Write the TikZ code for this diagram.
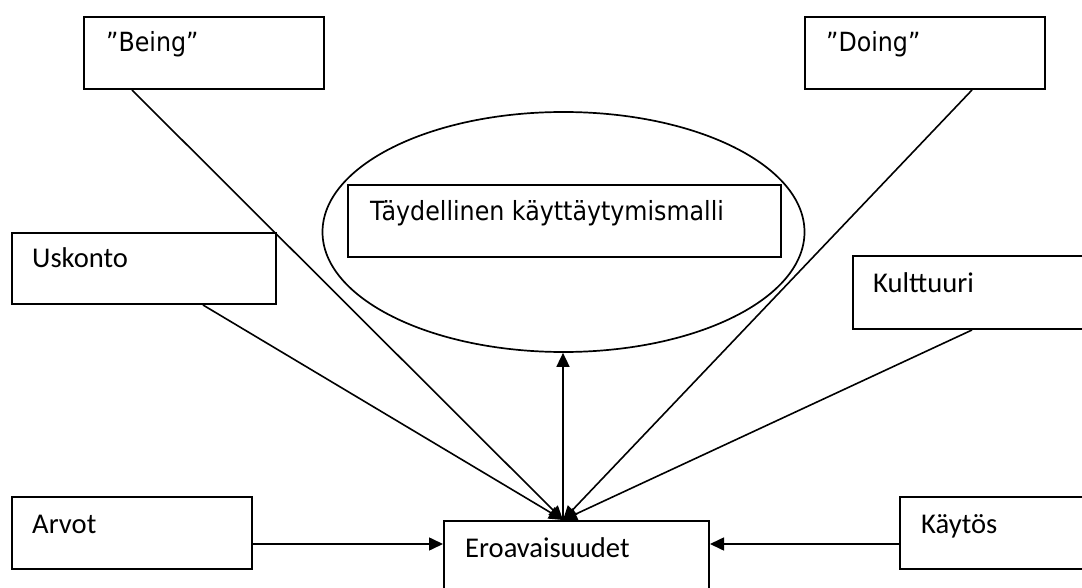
\documentclass[tikz,border=0pt]{standalone}
\usepackage{fontspec}
\setmainfont{Carlito}
\newfontfamily\condfont{DejaVu Sans Condensed}
\usetikzlibrary{calc,shapes.geometric,arrows.meta}
\begin{document}
\begin{tikzpicture}[x=1pt,y=-1pt,
  box/.style={draw,line width=2pt,rectangle,inner sep=0pt,anchor=north west},
  lbl/.style={anchor=base west,inner sep=0pt,font=\fontsize{28.6}{32}\selectfont},
  lblc/.style={anchor=base west,inner sep=0pt,font=\condfont\fontsize{26.4}{30}\selectfont},
  link/.style={line width=1.6pt,-{Triangle[length=14pt,width=13pt]}}]
\useasboundingbox (0,0) rectangle (1082,588);
\clip (0,0) rectangle (1082,588);

% central ellipse with the ideal model inside
\node[draw,ellipse,line width=1.7pt,minimum width=482pt,minimum height=240pt,inner sep=0pt] (ideal) at (563.5,232) {};
\node[box,minimum width=433pt,minimum height=72pt] (model) at (347,184) {};
\node[lblc] (modeltxt) at ($(model.north west)+(23,37)$) {Täydellinen käyttäytymismalli};

% factor boxes
\node[box,minimum width=240pt,minimum height=72pt] (being) at (83,16) {};
\node[lblc] (beingtxt) at ($(being.north west)+(23,36)$) {”Being”};

\node[box,minimum width=240pt,minimum height=72pt] (doing) at (804,16) {};
\node[lblc] (doingtxt) at ($(doing.north west)+(22,36)$) {”Doing”};

\node[box,minimum width=264pt,minimum height=71pt] (uskonto) at (11,232) {};
\node[lbl] (uskontotxt) at ($(uskonto.north west)+(21,36)$) {Uskonto};

\node[box,minimum width=268pt,minimum height=73pt] (kulttuuri) at (852,255) {};
\node[lbl] (kulttuuritxt) at ($(kulttuuri.north west)+(21,37)$) {Kulttuuri};

\node[box,minimum width=240pt,minimum height=72pt] (arvot) at (11,496) {};
\node[lbl] (arvottxt) at ($(arvot.north west)+(21,37)$) {Arvot};

\node[box,minimum width=221pt,minimum height=72pt] (kaytos) at (899,496) {};
\node[lbl] (kaytostxt) at ($(kaytos.north west)+(22,37)$) {Käytös};

\node[box,minimum width=265pt,minimum height=74pt] (ero) at (443,520) {};
\node[lbl] (erotxt) at ($(ero.north west)+(22,37)$) {Eroavaisuudet};

% connectors
\coordinate (hub) at ($(ero.north west)+(120,0)$);
\draw[link] ($(being.south west)+(49,0)$) -- (hub);
\draw[link] ($(doing.south west)+(168,0)$) -- (hub);
\draw[link] ($(uskonto.south west)+(192,0)$) -- (hub);
\draw[link] ($(kulttuuri.south west)+(120,0)$) -- (hub);
\draw[link] (hub) -- (hub |- ideal.south);

\coordinate (arvout) at ($(arvot.east)+(0,11)$);
\draw[link] (arvout) -- (arvout -| ero.west);
\coordinate (kaytout) at ($(kaytos.west)+(0,11)$);
\draw[link] (kaytout) -- (kaytout -| ero.east);
\end{tikzpicture}
\end{document}
